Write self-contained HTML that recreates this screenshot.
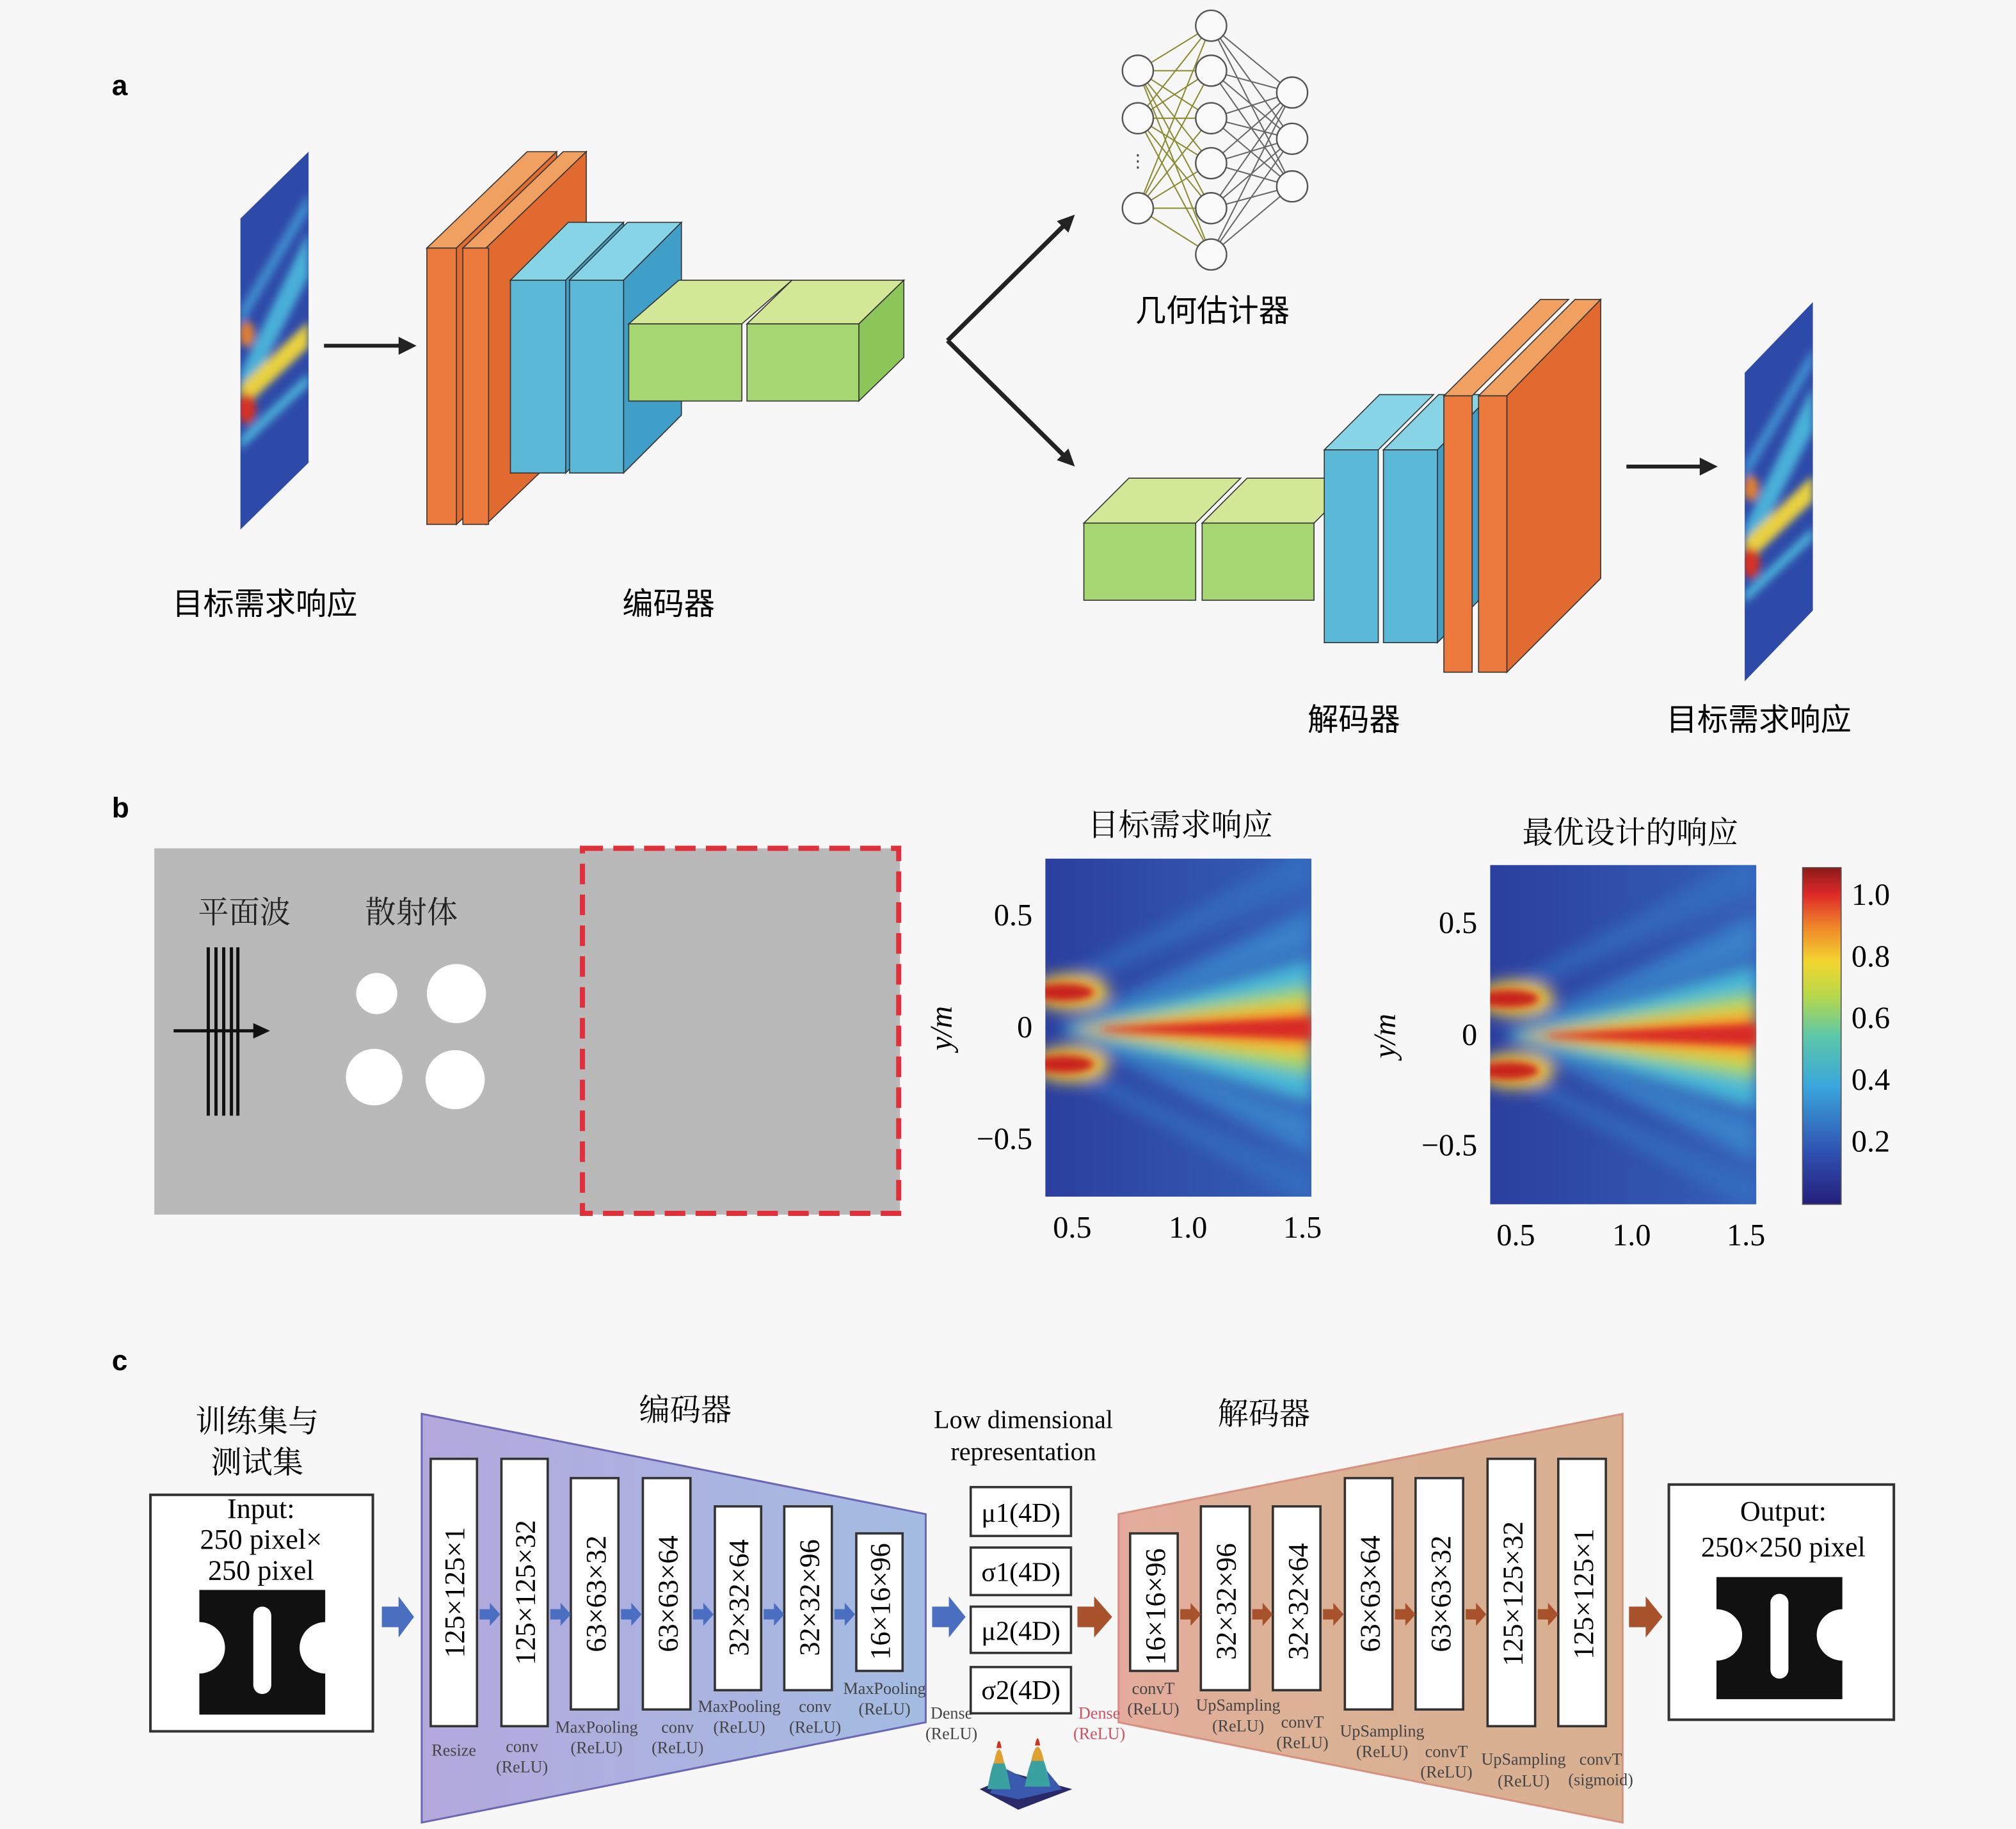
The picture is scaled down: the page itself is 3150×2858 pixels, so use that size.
<!DOCTYPE html>
<html><head><meta charset="utf-8"><style>
html,body{margin:0;padding:0;background:#f7f7f7}
svg{display:block}
.cj{font-family:"Liberation Sans","Noto Sans CJK SC",sans-serif}
.cs{font-family:"Liberation Serif","Noto Serif CJK SC",serif}
.se{font-family:"Liberation Serif",serif}
</style></head><body>
<svg width="3150" height="2858" viewBox="0 0 1568 1423" preserveAspectRatio="none" xmlns="http://www.w3.org/2000/svg">
<defs>
<linearGradient id="jetbg" x1="0" y1="0" x2="1" y2="0"><stop offset="0" stop-color="#2b3f9e"/><stop offset="1" stop-color="#3560b8"/></linearGradient>
<linearGradient id="cbar" x1="0" y1="1" x2="0" y2="0">
<stop offset="0" stop-color="#24207a"/><stop offset="0.15" stop-color="#2f4fb0"/><stop offset="0.35" stop-color="#3aa6dc"/><stop offset="0.5" stop-color="#5cc8a8"/><stop offset="0.62" stop-color="#b8d84a"/><stop offset="0.72" stop-color="#f2d630"/><stop offset="0.82" stop-color="#f08a2a"/><stop offset="0.92" stop-color="#dd2a28"/><stop offset="1" stop-color="#8c1a1a"/></linearGradient>
<linearGradient id="enc" x1="0" y1="0" x2="1" y2="0"><stop offset="0" stop-color="#b3a8dc"/><stop offset="1" stop-color="#a4bce2"/></linearGradient>
<linearGradient id="dec" x1="0" y1="0" x2="1" y2="0"><stop offset="0" stop-color="#e4ab9c"/><stop offset="0.3" stop-color="#dcb196"/><stop offset="1" stop-color="#d8b090"/></linearGradient>
<filter id="bl" x="-20%" y="-20%" width="140%" height="140%"><feGaussianBlur stdDeviation="6"/></filter>
<filter id="bl2"><feGaussianBlur stdDeviation="3"/></filter>
<clipPath id="h1"><rect x="813" y="668" width="207" height="263"/></clipPath>
<clipPath id="h2"><rect x="1159" y="673" width="207" height="264"/></clipPath>
<clipPath id="in1"><polygon points="187,170 240,118 240,360 187,412"/></clipPath>
<clipPath id="in2"><polygon points="1357,290 1410,235 1410,475 1357,530"/></clipPath>
<g id="heat">
<rect x="0" y="0" width="207" height="264" fill="url(#jetbg)"/>
<g filter="url(#bl)">
<polygon points="10,130 207,40 207,70 20,132" fill="#3a8ed0" opacity="0.7"/>
<polygon points="10,134 207,230 207,200 20,134" fill="#3a8ed0" opacity="0.7"/>
<polygon points="0,100 207,-10 207,20 0,110" fill="#3474c4" opacity="0.6"/>
<polygon points="0,160 207,270 207,245 0,150" fill="#3474c4" opacity="0.6"/>
<polygon points="15,132 207,78 207,190 15,134" fill="#46b8d8"/>
<polygon points="20,132 207,98 207,168 20,134" fill="#9ad466"/>
<polygon points="25,132 207,110 207,155 25,134" fill="#f2d030"/>
<polygon points="30,132 207,118 207,146 30,134" fill="#f07828"/>
<ellipse cx="20" cy="104" rx="30" ry="14" fill="#f0c838"/>
<ellipse cx="20" cy="160" rx="30" ry="14" fill="#f0c838"/>
</g>
<g filter="url(#bl2)">
<polygon points="45,132 207,124 207,140 45,134" fill="#d82a26"/>
<ellipse cx="14" cy="104" rx="24" ry="7" fill="#c8201e"/>
<ellipse cx="14" cy="160" rx="24" ry="7" fill="#c8201e"/>
</g>
</g>
</defs>
<rect width="1568" height="1423" fill="#f7f7f7"/>

<!-- ===== a ===== -->
<text x="87" y="74" font-family="Liberation Sans" font-weight="bold" font-size="22">a</text>
<polygon points="187,170 240,118 240,360 187,412" fill="#2e4aa8"/>
<g clip-path="url(#in1)" filter="url(#bl2)">
<polygon points="187,290 240,180 240,215 187,320" fill="#48b0d8"/>
<polygon points="187,240 240,150 240,165 187,255" fill="#3f8ed0"/>
<polygon points="187,300 240,250 240,270 187,320" fill="#e8d040"/>
<polygon points="187,340 240,290 240,300 187,350" fill="#48b0d8"/>
<ellipse cx="192" cy="318" rx="7" ry="12" fill="#d83020"/>
<ellipse cx="192" cy="260" rx="6" ry="10" fill="#e08030"/>
</g>
<line x1="252" y1="269" x2="312" y2="269" stroke="#222" stroke-width="3"/>
<polygon points="324,269 310,262 310,276" fill="#222"/>

<g stroke="#333" stroke-width="0.8">
<polygon points="332,193 410,118 433,118 355,193" fill="#f0a060"/>
<polygon points="355,193 433,118 433,333 355,408" fill="#e06a30"/>
<rect x="332" y="193" width="23" height="215" fill="#ec7a3c"/>
<polygon points="360,193 438,118 456,118 378,193" fill="#f0a060"/>
<polygon points="378,193 456,118 456,333 378,408" fill="#e06a30"/>
<rect x="360" y="193" width="20" height="215" fill="#ec7a3c"/>
<polygon points="397,218 442,173 485,173 440,218" fill="#86d4e6"/>
<polygon points="440,218 485,173 485,323 440,368" fill="#3f9fc8"/>
<rect x="397" y="218" width="43" height="150" fill="#5bb8d6"/>
<polygon points="443,218 488,173 530,173 485,218" fill="#86d4e6"/>
<polygon points="485,218 530,173 530,323 485,368" fill="#3f9fc8"/>
<rect x="443" y="218" width="42" height="150" fill="#5bb8d6"/>
<polygon points="489,252 528,218 616,218 577,252" fill="#d2e896"/>
<rect x="489" y="252" width="88" height="60" fill="#a6d672"/>
<polygon points="581,252 616,218 703,218 668,252" fill="#d2e896"/>
<polygon points="668,252 703,218 703,278 668,312" fill="#8cc658"/>
<rect x="581" y="252" width="87" height="60" fill="#a6d672"/>
</g>
<text x="206" y="478" text-anchor="middle" class="cj" font-size="24">目标需求响应</text>
<text x="520" y="478" text-anchor="middle" class="cj" font-size="24">编码器</text>

<g stroke="#222" stroke-width="3.5" fill="none">
<line x1="737" y1="265" x2="828" y2="175"/><line x1="737" y1="265" x2="828" y2="355"/>
</g>
<polygon points="836,167 822,172 831,181" fill="#222"/>
<polygon points="836,363 822,358 831,349" fill="#222"/>

<g stroke-width="1">
<g stroke="#8a8a30">
<path d="M885,55L942,20M885,55L942,55M885,55L942,92M885,55L942,127M885,55L942,162M885,55L942,198
M885,92L942,20M885,92L942,55M885,92L942,92M885,92L942,127M885,92L942,162M885,92L942,198
M885,162L942,20M885,162L942,55M885,162L942,92M885,162L942,127M885,162L942,162M885,162L942,198"/>
</g>
<g stroke="#666">
<path d="M942,20L1005,72M942,20L1005,108M942,20L1005,145M942,55L1005,72M942,55L1005,108M942,55L1005,145
M942,92L1005,72M942,92L1005,108M942,92L1005,145M942,127L1005,72M942,127L1005,108M942,127L1005,145
M942,162L1005,72M942,162L1005,108M942,162L1005,145M942,198L1005,72M942,198L1005,108M942,198L1005,145"/>
</g>
</g>
<g fill="#fafafa" stroke="#555" stroke-width="1.2">
<circle cx="885" cy="55" r="12"/><circle cx="885" cy="92" r="12"/><circle cx="885" cy="162" r="12"/>
<circle cx="942" cy="20" r="12"/><circle cx="942" cy="55" r="12"/><circle cx="942" cy="92" r="12"/><circle cx="942" cy="127" r="12"/><circle cx="942" cy="162" r="12"/><circle cx="942" cy="198" r="12"/>
<circle cx="1005" cy="72" r="12"/><circle cx="1005" cy="108" r="12"/><circle cx="1005" cy="145" r="12"/>
</g>
<text x="885" y="130" text-anchor="middle" font-size="14" font-family="Liberation Sans" fill="#444">⋮</text>
<text x="943" y="250" text-anchor="middle" class="cj" font-size="24">几何估计器</text>

<g stroke="#333" stroke-width="0.8">
<polygon points="843,407 878,372 965,372 930,407" fill="#d2e896"/>
<rect x="843" y="407" width="87" height="60" fill="#a6d672"/>
<polygon points="935,407 970,372 1057,372 1022,407" fill="#d2e896"/>
<rect x="935" y="407" width="87" height="60" fill="#a6d672"/>
<polygon points="1030,350 1073,307 1115,307 1072,350" fill="#86d4e6"/>
<rect x="1030" y="350" width="42" height="150" fill="#5bb8d6"/>
<polygon points="1076,350 1119,307 1160,307 1118,350" fill="#86d4e6"/>
<polygon points="1118,350 1160,307 1160,457 1118,500" fill="#3f9fc8"/>
<rect x="1076" y="350" width="42" height="150" fill="#5bb8d6"/>
<polygon points="1123,308 1198,233 1220,233 1145,308" fill="#f0a060"/>
<rect x="1123" y="308" width="22" height="215" fill="#ec7a3c"/>
<polygon points="1150,308 1225,233 1245,233 1172,308" fill="#f0a060"/>
<polygon points="1172,308 1245,233 1245,450 1172,523" fill="#e06a30"/>
<rect x="1150" y="308" width="22" height="215" fill="#ec7a3c"/>
</g>
<line x1="1265" y1="363" x2="1323" y2="363" stroke="#222" stroke-width="3"/>
<polygon points="1336,363 1322,356 1322,370" fill="#222"/>
<polygon points="1357,290 1410,235 1410,475 1357,530" fill="#2e4aa8"/>
<g clip-path="url(#in2)" filter="url(#bl2)">
<polygon points="1357,410 1410,300 1410,335 1357,440" fill="#48b0d8"/>
<polygon points="1357,360 1410,270 1410,285 1357,375" fill="#3f8ed0"/>
<polygon points="1357,420 1410,370 1410,390 1357,440" fill="#e8d040"/>
<polygon points="1357,460 1410,410 1410,420 1357,470" fill="#48b0d8"/>
<ellipse cx="1362" cy="438" rx="7" ry="12" fill="#d83020"/>
<ellipse cx="1362" cy="380" rx="6" ry="10" fill="#e08030"/>
</g>
<text x="1053" y="568" text-anchor="middle" class="cj" font-size="24">解码器</text>
<text x="1368" y="568" text-anchor="middle" class="cj" font-size="24">目标需求响应</text>

<!-- ===== b ===== -->
<text x="87" y="636" font-family="Liberation Sans" font-weight="bold" font-size="22">b</text>
<rect x="120" y="660" width="580" height="285" fill="#b9b9b9"/>
<rect x="453" y="660" width="246" height="284" fill="none" stroke="#e0303a" stroke-width="4" stroke-dasharray="16,8"/>
<text x="190" y="718" text-anchor="middle" class="cs" font-size="24" fill="#222">平面波</text>
<text x="320" y="718" text-anchor="middle" class="cs" font-size="24" fill="#222">散射体</text>
<g stroke="#111" stroke-width="2.5"><line x1="162" y1="737" x2="162" y2="868"/><line x1="168" y1="737" x2="168" y2="868"/><line x1="174" y1="737" x2="174" y2="868"/><line x1="180" y1="737" x2="180" y2="868"/><line x1="185" y1="737" x2="185" y2="868"/>
<line x1="135" y1="802" x2="200" y2="802"/></g>
<polygon points="210,802 197,796 197,808" fill="#111"/>
<g fill="#fff"><circle cx="293" cy="773" r="16"/><circle cx="355" cy="773" r="23"/><circle cx="291" cy="838" r="22"/><circle cx="354" cy="840" r="23"/></g>

<text x="918" y="650" text-anchor="middle" class="cs" font-size="24">目标需求响应</text>
<g clip-path="url(#h1)"><use href="#heat" transform="translate(813,668)"/></g>
<g class="se" font-size="24" text-anchor="end">
<text x="803" y="720">0.5</text><text x="803" y="807">0</text><text x="803" y="894">−0.5</text></g>
<text transform="translate(740,800) rotate(-90)" text-anchor="middle" class="se" font-size="24" font-style="italic">y/m</text>
<g class="se" font-size="24" text-anchor="middle"><text x="834" y="963">0.5</text><text x="924" y="963">1.0</text><text x="1013" y="963">1.5</text></g>

<text x="1268" y="656" text-anchor="middle" class="cs" font-size="24">最优设计的响应</text>
<g clip-path="url(#h2)"><use href="#heat" transform="translate(1159,673)"/></g>
<g class="se" font-size="24" text-anchor="end">
<text x="1149" y="726">0.5</text><text x="1149" y="813">0</text><text x="1149" y="899">−0.5</text></g>
<text transform="translate(1085,806) rotate(-90)" text-anchor="middle" class="se" font-size="24" font-style="italic">y/m</text>
<g class="se" font-size="24" text-anchor="middle"><text x="1179" y="969">0.5</text><text x="1269" y="969">1.0</text><text x="1358" y="969">1.5</text></g>

<rect x="1402" y="675" width="30" height="262" fill="url(#cbar)" stroke="#555" stroke-width="0.8"/>
<g class="se" font-size="24"><text x="1440" y="704">1.0</text><text x="1440" y="752">0.8</text><text x="1440" y="800">0.6</text><text x="1440" y="848">0.4</text><text x="1440" y="896">0.2</text></g>

<!-- ===== c ===== -->
<text x="87" y="1066" font-family="Liberation Sans" font-weight="bold" font-size="22">c</text>
<text x="200" y="1114" text-anchor="middle" class="cs" font-size="24">训练集与</text>
<text x="200" y="1146" text-anchor="middle" class="cs" font-size="24">测试集</text>
<rect x="117" y="1163" width="173" height="184" fill="#fff" stroke="#333" stroke-width="2"/>
<g class="se" font-size="22" text-anchor="middle"><text x="203" y="1181">Input:</text><text x="203" y="1205">250 pixel×</text><text x="203" y="1229">250 pixel</text></g>
<rect x="155" y="1237" width="98" height="97" fill="#111"/>
<rect x="197" y="1250" width="14" height="68" rx="7" fill="#fff"/>
<circle cx="155" cy="1282" r="20" fill="#fff"/><circle cx="253" cy="1282" r="20" fill="#fff"/>
<rect x="130" y="1237" width="25" height="97" fill="#fff"/><rect x="253" y="1237" width="25" height="97" fill="#fff"/>

<polygon points="328,1100 720,1178 720,1340 328,1418" fill="url(#enc)" stroke="#6a66b8" stroke-width="1.5"/>
<text x="533" y="1105" text-anchor="middle" class="cs" font-size="24">编码器</text>
<g fill="#fff" stroke="#333" stroke-width="1.8">
<rect x="335" y="1135" width="36" height="208"/><rect x="390" y="1135" width="36" height="208"/>
<rect x="444" y="1150" width="37" height="180"/><rect x="500" y="1150" width="37" height="180"/>
<rect x="556" y="1172" width="36" height="143"/><rect x="610" y="1172" width="37" height="143"/>
<rect x="666" y="1193" width="36" height="107"/>
</g>
<g class="se" font-size="22" text-anchor="middle">
<text transform="translate(361,1239) rotate(-90)">125×125×1</text>
<text transform="translate(416,1239) rotate(-90)">125×125×32</text>
<text transform="translate(471,1240) rotate(-90)">63×63×32</text>
<text transform="translate(527,1240) rotate(-90)">63×63×64</text>
<text transform="translate(582,1243) rotate(-90)">32×32×64</text>
<text transform="translate(637,1243) rotate(-90)">32×32×96</text>
<text transform="translate(692,1246) rotate(-90)">16×16×96</text>
</g>
<g fill="#4a6ec0">
<polygon points="373,1252 381,1252 381,1247 389,1256 381,1265 381,1260 373,1260"/>
<polygon points="428,1252 436,1252 436,1247 444,1256 436,1265 436,1260 428,1260"/>
<polygon points="483,1252 491,1252 491,1247 499,1256 491,1265 491,1260 483,1260"/>
<polygon points="539,1252 547,1252 547,1247 555,1256 547,1265 547,1260 539,1260"/>
<polygon points="594,1252 602,1252 602,1247 610,1256 602,1265 602,1260 594,1260"/>
<polygon points="649,1252 657,1252 657,1247 665,1256 657,1265 657,1260 649,1260"/>
<polygon points="297,1250 310,1250 310,1242 322,1258 310,1274 310,1266 297,1266"/>
<polygon points="725,1250 738,1250 738,1242 751,1258 738,1274 738,1266 725,1266"/>
</g>
<g fill="#a8522c">
<polygon points="838,1250 851,1250 851,1242 865,1258 851,1274 851,1266 838,1266"/>
<polygon points="1267,1250 1280,1250 1280,1242 1293,1258 1280,1274 1280,1266 1267,1266"/>
</g>
<polygon points="870,1178 1262,1100 1262,1418 870,1340" fill="url(#dec)" stroke="#d89080" stroke-width="1.5"/>
<g fill="#fff" stroke="#333" stroke-width="1.8">
<rect x="879" y="1193" width="37" height="107"/><rect x="934" y="1172" width="38" height="143"/>
<rect x="990" y="1172" width="37" height="143"/><rect x="1046" y="1150" width="37" height="180"/>
<rect x="1101" y="1150" width="37" height="180"/><rect x="1157" y="1135" width="37" height="208"/>
<rect x="1212" y="1135" width="37" height="208"/>
</g>
<g class="se" font-size="22" text-anchor="middle">
<text transform="translate(906,1250) rotate(-90)">16×16×96</text>
<text transform="translate(961,1246) rotate(-90)">32×32×96</text>
<text transform="translate(1017,1246) rotate(-90)">32×32×64</text>
<text transform="translate(1073,1240) rotate(-90)">63×63×64</text>
<text transform="translate(1128,1240) rotate(-90)">63×63×32</text>
<text transform="translate(1184,1240) rotate(-90)">125×125×32</text>
<text transform="translate(1239,1240) rotate(-90)">125×125×1</text>
</g>
<g fill="#a8522c">
<polygon points="918,1252 926,1252 926,1247 934,1256 926,1265 926,1260 918,1260"/>
<polygon points="974,1252 982,1252 982,1247 990,1256 982,1265 982,1260 974,1260"/>
<polygon points="1029,1252 1037,1252 1037,1247 1045,1256 1037,1265 1037,1260 1029,1260"/>
<polygon points="1085,1252 1093,1252 1093,1247 1101,1256 1093,1265 1093,1260 1085,1260"/>
<polygon points="1140,1252 1148,1252 1148,1247 1156,1256 1148,1265 1148,1260 1140,1260"/>
<polygon points="1196,1252 1204,1252 1204,1247 1212,1256 1204,1265 1204,1260 1196,1260"/>
</g>
<text x="983" y="1108" text-anchor="middle" class="cs" font-size="24">解码器</text>
<g class="se" font-size="13" text-anchor="middle" fill="#444">
<text x="353" y="1366">Resize</text>
<text x="406" y="1363">conv</text><text x="406" y="1379">(ReLU)</text>
<text x="464" y="1348">MaxPooling</text><text x="464" y="1364">(ReLU)</text>
<text x="527" y="1348">conv</text><text x="527" y="1364">(ReLU)</text>
<text x="575" y="1332">MaxPooling</text><text x="575" y="1348">(ReLU)</text>
<text x="634" y="1332">conv</text><text x="634" y="1348">(ReLU)</text>
<text x="688" y="1318">MaxPooling</text><text x="688" y="1334">(ReLU)</text>
<text x="740" y="1337">Dense</text><text x="740" y="1353">(ReLU)</text>
<g fill="#d05060"><text x="855" y="1337">Dense</text><text x="855" y="1353">(ReLU)</text></g>
<text x="897" y="1318">convT</text><text x="897" y="1334">(ReLU)</text>
<text x="963" y="1331">UpSampling</text><text x="963" y="1347">(ReLU)</text>
<text x="1013" y="1344">convT</text><text x="1013" y="1360">(ReLU)</text>
<text x="1075" y="1351">UpSampling</text><text x="1075" y="1367">(ReLU)</text>
<text x="1125" y="1367">convT</text><text x="1125" y="1383">(ReLU)</text>
<text x="1185" y="1373">UpSampling</text><text x="1185" y="1390">(ReLU)</text>
<text x="1245" y="1373">convT</text><text x="1245" y="1389">(sigmoid)</text>
</g>
<g class="se" font-size="20" text-anchor="middle"><text x="796" y="1111">Low dimensional</text><text x="796" y="1136">representation</text></g>
<g fill="#fff" stroke="#333" stroke-width="1.8">
<rect x="755" y="1157" width="78" height="38"/><rect x="755" y="1204" width="78" height="37"/>
<rect x="755" y="1250" width="78" height="36"/><rect x="755" y="1297" width="78" height="36"/>
</g>
<g class="se" font-size="21" text-anchor="middle"><text x="794" y="1184">μ1(4D)</text><text x="794" y="1230">σ1(4D)</text><text x="794" y="1276">μ2(4D)</text><text x="794" y="1322">σ2(4D)</text></g>
<polygon points="762,1392 790,1380 834,1392 792,1408" fill="#2a2a6a"/>
<polygon points="770,1395 780,1375 800,1385 812,1375 826,1392 792,1400" fill="#3a5ab0"/>
<path d="M768,1392 Q777,1340 786,1392 Z" fill="#3aa0a0"/><path d="M797,1390 Q807,1338 817,1390 Z" fill="#3aa0a0"/>
<path d="M773,1372 Q777,1350 781,1372 Z" fill="#e0a030"/><path d="M802,1370 Q807,1348 812,1370 Z" fill="#e0a030"/>
<path d="M775,1360 Q777,1349 779,1360 Z" fill="#d03020"/><path d="M805,1358 Q807,1347 809,1358 Z" fill="#d03020"/>

<rect x="1298" y="1155" width="175" height="183" fill="#fff" stroke="#333" stroke-width="2"/>
<g class="se" font-size="22" text-anchor="middle"><text x="1387" y="1183">Output:</text><text x="1387" y="1211">250×250 pixel</text></g>
<rect x="1335" y="1227" width="98" height="95" fill="#111"/>
<rect x="1377" y="1240" width="14" height="66" rx="7" fill="#fff"/>
<circle cx="1335" cy="1272" r="20" fill="#fff"/><circle cx="1433" cy="1272" r="20" fill="#fff"/>
<rect x="1312" y="1227" width="23" height="95" fill="#fff"/><rect x="1433" y="1227" width="23" height="95" fill="#fff"/>
</svg>
</body></html>
